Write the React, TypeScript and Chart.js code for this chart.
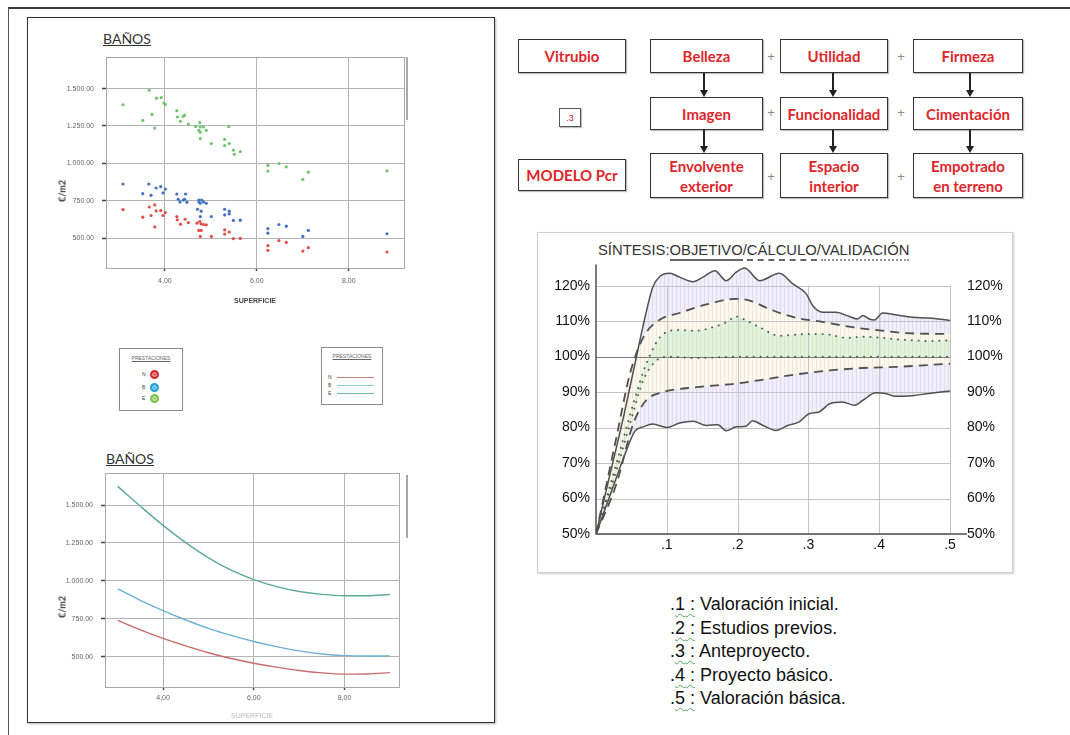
import React, { useEffect, useRef } from 'react';
import { Chart, registerables } from 'chart.js';
Chart.register(...registerables);

const SANS = '"Liberation Sans", Arial, sans-serif';
const CAL = 'Lato, "Open Sans", sans-serif';

// ---------------- data: scatter "BAÑOS" ----------------
const greenX = [3.09, 3.66, 3.72, 3.52, 3.78, 3.82, 3.92, 3.98, 4.01, 4.26, 4.27, 4.34, 4.40, 4.43, 4.51, 4.67, 4.76, 4.77, 4.74, 4.77, 4.84, 4.90, 4.77, 5.01, 5.30, 5.30, 5.40, 5.39, 5.49, 5.51, 5.64, 6.24, 6.24, 6.48, 6.64, 7.00, 7.12, 8.83];
const greenY = [1392, 1489, 1327, 1287, 1236, 1436, 1440, 1403, 1394, 1352, 1310, 1281, 1314, 1323, 1263, 1247, 1272, 1243, 1221, 1208, 1243, 1221, 1165, 1132, 1161, 1119, 1132, 1247, 1088, 1061, 1079, 986, 948, 999, 977, 893, 941, 950];
const blueX = [3.09, 3.65, 3.52, 3.70, 3.81, 3.91, 3.96, 4.01, 4.26, 4.45, 4.29, 4.40, 4.43, 4.33, 4.48, 4.74, 4.74, 4.77, 4.80, 4.84, 4.90, 4.71, 4.79, 4.77, 5.01, 5.30, 5.40, 5.30, 5.40, 5.49, 5.64, 6.24, 6.24, 6.48, 6.64, 7.00, 7.12, 8.83];
const blueY = [862, 862, 797, 786, 835, 844, 802, 828, 795, 795, 760, 755, 760, 742, 740, 755, 742, 733, 755, 742, 733, 693, 680, 644, 644, 693, 680, 655, 662, 618, 620, 564, 533, 591, 580, 511, 551, 529];
const redX = [3.09, 3.52, 3.66, 3.70, 3.78, 3.81, 3.91, 3.96, 4.01, 3.78, 4.26, 4.27, 4.34, 4.44, 4.51, 4.70, 4.76, 4.79, 4.84, 4.90, 4.74, 4.79, 4.77, 5.01, 5.30, 5.30, 5.40, 5.49, 5.64, 6.24, 6.24, 6.48, 6.64, 7.00, 7.12, 8.83];
const redY = [691, 640, 708, 651, 722, 682, 684, 651, 671, 575, 644, 622, 593, 626, 604, 600, 611, 595, 591, 589, 551, 551, 511, 511, 555, 527, 540, 496, 498, 449, 418, 484, 471, 413, 436, 407];

// ---------------- data: curves "BAÑOS" ----------------
const curveX = [3.0, 3.5, 4.0, 4.5, 5.0, 5.5, 6.0, 6.5, 7.0, 7.5, 8.0, 8.5, 9.0];
const curveE = [1623, 1492, 1366, 1252, 1152, 1070, 1008, 962, 930, 911, 902, 902, 910];
const curveB = [947, 872, 804, 742, 687, 640, 600, 566, 538, 518, 507, 504, 505];
const curveN = [739, 677, 621, 571, 526, 488, 457, 431, 409, 393, 385, 386, 395];

// shared axes of the two left charts
const docXTicks = [4, 6, 8];
const docXLabels = ['4,00', '6,00', '8,00'];
const docYTicks = [500, 750, 1000, 1250, 1500];
const docYLabels = ['500.00', '750.00', '1.000.00', '1.250.00', '1.500.00'];
const legendLetters = ['N', 'B', 'E'];

// ---------------- data: SÍNTESIS ----------------
const objUpX = [0, 0.02, 0.04, 0.055, 0.068, 0.08, 0.09, 0.104, 0.118, 0.137, 0.151, 0.168, 0.184, 0.198, 0.21, 0.231, 0.259, 0.278, 0.297, 0.306, 0.32, 0.339, 0.358, 0.369, 0.377, 0.386, 0.393, 0.405, 0.423, 0.447, 0.47, 0.5];
const objUpY = [50, 67, 84, 98, 110, 119.5, 122.6, 123.5, 122.4, 121.1, 122.4, 124.2, 121.4, 123.8, 125.0, 121.4, 123.5, 120.5, 117.7, 114.4, 112.5, 112.5, 111.3, 110.6, 111.6, 110.6, 110.3, 112.3, 111.8, 111.1, 110.9, 110.2];
const objLoX = [0, 0.02, 0.04, 0.055, 0.067, 0.08, 0.1, 0.118, 0.137, 0.156, 0.172, 0.184, 0.198, 0.212, 0.221, 0.236, 0.254, 0.271, 0.287, 0.301, 0.315, 0.33, 0.348, 0.365, 0.377, 0.395, 0.409, 0.423, 0.447, 0.47, 0.5];
const objLoY = [50, 61, 72, 79, 80.2, 81, 80, 81.3, 81.8, 80.6, 80.8, 79.1, 80.2, 80.4, 81.9, 80.6, 79.2, 80.6, 81.6, 83.9, 84.4, 86.7, 87.2, 86.3, 87.7, 89.8, 89.6, 88.8, 89.0, 89.6, 90.3];
const calcUpX = [0, 0.029, 0.048, 0.067, 0.09, 0.118, 0.156, 0.198, 0.217, 0.245, 0.283, 0.32, 0.362, 0.4, 0.44, 0.5];
const calcUpY = [50, 77.4, 95.2, 105.5, 110.4, 112.3, 114.7, 116.3, 115.8, 113.4, 110.9, 109.8, 108.3, 107.4, 106.6, 106.4];
const calcLoX = [0, 0.029, 0.0526, 0.071, 0.095, 0.142, 0.198, 0.245, 0.283, 0.33, 0.377, 0.423, 0.5];
const calcLoY = [50, 64.2, 81.1, 87.7, 90.0, 91.4, 92.4, 93.8, 95.0, 96.1, 96.8, 97.1, 98.0];
const valUpX = [0, 0.029, 0.0526, 0.071, 0.095, 0.118, 0.142, 0.165, 0.184, 0.198, 0.212, 0.231, 0.259, 0.283, 0.306, 0.33, 0.353, 0.377, 0.4, 0.423, 0.447, 0.47, 0.5];
const valUpY = [50, 70, 86.7, 98, 106.4, 107.5, 107.3, 108.3, 109.7, 111.3, 110.2, 108.3, 105.9, 106.2, 106.4, 106.2, 105.3, 105.6, 105.4, 104.9, 104.6, 104.4, 104.6];
const valLoX = [0, 0.029, 0.048, 0.0667, 0.0855, 0.104, 0.14, 0.16, 0.2, 0.3, 0.4, 0.5];
const valLoY = [50, 68, 81, 93.3, 98.9, 100, 99.6, 99.7, 100, 100, 100, 100];
const synthXTicks = [0.1, 0.2, 0.3, 0.4, 0.5];
const synthXLabels = ['.1', '.2', '.3', '.4', '.5'];
const synthYTicks = [50, 60, 70, 80, 90, 100, 110, 120];
const synthYLabels = ['50%', '60%', '70%', '80%', '90%', '100%', '110%', '120%'];

// ---------------- text content ----------------
const flowRows = [
  ['Belleza', 'Utilidad', 'Firmeza'],
  ['Imagen', 'Funcionalidad', 'Cimentación'],
  ['Envolvente\nexterior', 'Espacio\ninterior', 'Empotrado\nen terreno'],
];
const flowLeft = ['Vitrubio', '.3', 'MODELO Pcr'];
const phaseNums = ['1', '2', '3', '4', '5'];
const phaseNames = ['Valoración inicial.', 'Estudios previos.', 'Anteproyecto.', 'Proyecto básico.', 'Valoración básica.'];

// ---------------- helpers ----------------
const pts = (xs: number[], ys: number[]) => xs.map((x, i) => ({ x, y: ys[i] }));
const fixedTicks = (vals: number[]) => (scale: any) => {
  scale.ticks = vals.map((v) => ({ value: v }));
};

const plotFrame = {
  id: 'plotFrame',
  beforeDatasetsDraw(chart: any) {
    const { ctx, chartArea: a } = chart;
    ctx.save();
    ctx.strokeStyle = '#a8a8a8';
    ctx.lineWidth = 1;
    ctx.strokeRect(Math.round(a.left) + 0.5, Math.round(a.top) + 0.5, Math.round(a.right - a.left), Math.round(a.bottom - a.top));
    ctx.restore();
  },
};

function docOptions(p: { padTop: number; padRight: number; xHeight: number; yWidth: number; xTickPad: number; xTitleColor: string; xTitlePad: number }) {
  const tickFont = { family: SANS, size: 7 };
  return {
    animation: false,
    responsive: false,
    maintainAspectRatio: false,
    layout: { padding: { top: p.padTop, right: p.padRight, left: 0, bottom: 0 } },
    plugins: { legend: { display: false }, tooltip: { enabled: false } },
    scales: {
      x: {
        type: 'linear',
        min: 2.72,
        max: 9.2,
        afterBuildTicks: fixedTicks(docXTicks),
        afterFit: (s: any) => { s.height = p.xHeight; },
        ticks: { autoSkip: false, maxRotation: 0, padding: p.xTickPad, color: '#666', font: tickFont, callback: (_v: any, i: number) => docXLabels[i] },
        grid: { color: '#b4b4b4', lineWidth: 1, tickColor: '#444', tickLength: 3, tickWidth: 1.5 },
        border: { display: true, color: '#a8a8a8' },
        title: { display: true, text: 'SUPERFICIE', color: p.xTitleColor, font: { family: SANS, size: 7, weight: 'bold' }, padding: { top: 0, bottom: p.xTitlePad } },
      },
      y: {
        type: 'linear',
        min: 300,
        max: 1710,
        afterBuildTicks: fixedTicks(docYTicks),
        afterFit: (s: any) => { s.width = p.yWidth; },
        ticks: { padding: 8, color: '#666', font: tickFont, callback: (_v: any, i: number) => docYLabels[i] },
        grid: { color: '#b4b4b4', lineWidth: 1, tickColor: '#444', tickLength: 4, tickWidth: 1.5 },
        border: { display: true, color: '#a8a8a8' },
      },
    },
  };
}

function hatch(base: string, line: string) {
  const c = document.createElement('canvas');
  c.width = 4;
  c.height = 4;
  const g = c.getContext('2d') as CanvasRenderingContext2D;
  g.fillStyle = base;
  g.fillRect(0, 0, 4, 4);
  g.fillStyle = line;
  g.fillRect(0, 0, 1, 4);
  return g.createPattern(c, 'repeat');
}

const synthGrid = {
  id: 'synthGrid',
  beforeDatasetsDraw(chart: any) {
    const { ctx, chartArea: a } = chart;
    const x = chart.scales.x;
    const y = chart.scales.y;
    ctx.save();
    ctx.lineWidth = 1;
    for (const v of synthYTicks) {
      const py = Math.round(y.getPixelForValue(v)) + 0.5;
      ctx.strokeStyle = v === 100 ? '#7c7c7c' : '#c4c4c4';
      ctx.beginPath();
      ctx.moveTo(a.left, py);
      ctx.lineTo(a.right, py);
      ctx.stroke();
    }
    const top = y.getPixelForValue(synthYTicks[synthYTicks.length - 1]);
    ctx.strokeStyle = '#c4c4c4';
    for (const v of synthXTicks) {
      const px = Math.round(x.getPixelForValue(v)) + 0.5;
      ctx.beginPath();
      ctx.moveTo(px, top);
      ctx.lineTo(px, a.bottom);
      ctx.stroke();
    }
    ctx.strokeStyle = '#505050';
    ctx.lineWidth = 1.5;
    ctx.beginPath();
    ctx.moveTo(a.left, a.top);
    ctx.lineTo(a.left, a.bottom);
    ctx.lineTo(a.right + 17, a.bottom);
    ctx.stroke();
    ctx.restore();
  },
};

// ---------------- chart components ----------------
function ScatterChart() {
  const ref = useRef<HTMLCanvasElement>(null);
  useEffect(() => {
    const dot = (color: string) => ({ backgroundColor: color, borderColor: color, pointRadius: 1.6, pointBorderWidth: 0 });
    const chart = new Chart(ref.current as HTMLCanvasElement, {
      type: 'scatter',
      data: {
        datasets: [
          { label: 'N', data: pts(redX, redY), ...dot('#e0504a') },
          { label: 'B', data: pts(blueX, blueY), ...dot('#4472c2') },
          { label: 'E', data: pts(greenX, greenY), ...dot('#72c272') },
        ],
      },
      options: docOptions({ padTop: 12, padRight: 16, xHeight: 57, yWidth: 66, xTickPad: 6, xTitleColor: '#444', xTitlePad: 20 }) as any,
      plugins: [plotFrame],
    });
    return () => chart.destroy();
  }, []);
  return <canvas ref={ref} width={380} height={280} style={{ position: 'absolute', left: 40, top: 45, width: 380, height: 280 }} />;
}

function CurveChart() {
  const ref = useRef<HTMLCanvasElement>(null);
  useEffect(() => {
    const line = (color: string) => ({ borderColor: color, borderWidth: 1.4, pointRadius: 0, fill: false, cubicInterpolationMode: 'monotone' as const });
    const chart = new Chart(ref.current as HTMLCanvasElement, {
      type: 'line',
      data: {
        datasets: [
          { label: 'N', data: pts(curveX, curveN), ...line('#c76b6b') },
          { label: 'B', data: pts(curveX, curveB), ...line('#6eb0d2') },
          { label: 'E', data: pts(curveX, curveE), ...line('#5caa99') },
        ],
      },
      options: docOptions({ padTop: 0, padRight: 21, xHeight: 38, yWidth: 65, xTickPad: 4, xTitleColor: '#d0d0d0', xTitlePad: 5 }) as any,
      plugins: [plotFrame],
    });
    return () => chart.destroy();
  }, []);
  return <canvas ref={ref} width={380} height={264} style={{ position: 'absolute', left: 40, top: 461, width: 380, height: 264 }} />;
}

function SynthChart() {
  const ref = useRef<HTMLCanvasElement>(null);
  useEffect(() => {
    const lavender = hatch('#f0eef9', '#e1dcf1');
    const cream = hatch('#fcf8ee', '#f1eadb');
    const green = hatch('#e3f2dd', '#d2e8c9');
    const base = { pointRadius: 0, cubicInterpolationMode: 'monotone' as const, borderColor: '#505050' };
    const solid = { ...base, borderWidth: 1.5, order: 3 };
    const dashed = { ...base, borderWidth: 1.8, borderDash: [9, 6], order: 2 };
    const dotted = { ...base, borderColor: '#4a5a4a', borderWidth: 1.9, borderDash: [0.1, 6.8], borderCapStyle: 'round' as const, order: 1 };
    const yTicks = () => ({ padding: 0, color: '#111', font: { family: SANS, size: 14 }, callback: (_v: any, i: number) => synthYLabels[i] });
    const chart = new Chart(ref.current as HTMLCanvasElement, {
      type: 'line',
      data: {
        datasets: [
          { label: 'Objetivo +', data: pts(objUpX, objUpY), ...solid, fill: '+1', backgroundColor: lavender as any },
          { label: 'Objetivo -', data: pts(objLoX, objLoY), ...solid, fill: false },
          { label: 'Cálculo +', data: pts(calcUpX, calcUpY), ...dashed, fill: '+1', backgroundColor: cream as any },
          { label: 'Cálculo -', data: pts(calcLoX, calcLoY), ...dashed, fill: false },
          { label: 'Validación +', data: pts(valUpX, valUpY), ...dotted, fill: '+1', backgroundColor: green as any },
          { label: 'Validación -', data: pts(valLoX, valLoY), ...dotted, fill: false },
        ] as any,
      },
      options: {
        animation: false,
        responsive: false,
        maintainAspectRatio: false,
        layout: { padding: 0 },
        plugins: { legend: { display: false }, tooltip: { enabled: false }, filler: { drawTime: 'beforeDatasetsDraw' } },
        scales: {
          x: {
            type: 'linear',
            min: 0,
            max: 0.5,
            afterBuildTicks: fixedTicks(synthXTicks),
            afterFit: (s: any) => { s.height = 28; },
            grid: { display: false, drawTicks: false },
            border: { display: false },
            ticks: { autoSkip: false, maxRotation: 0, padding: 3, color: '#111', font: { family: SANS, size: 14 }, callback: (_v: any, i: number) => synthXLabels[i] },
          },
          y: {
            type: 'linear',
            position: 'left',
            min: 50,
            max: 126,
            afterBuildTicks: fixedTicks(synthYTicks),
            afterFit: (s: any) => { s.width = 56; },
            grid: { display: false, drawTicks: true, tickLength: 6 },
            border: { display: false },
            ticks: yTicks(),
          },
          y2: {
            type: 'linear',
            position: 'right',
            min: 50,
            max: 126,
            afterBuildTicks: fixedTicks(synthYTicks),
            afterFit: (s: any) => { s.width = 60; },
            grid: { display: false, drawTicks: true, tickLength: 17 },
            border: { display: false },
            ticks: yTicks(),
          },
        },
      } as any,
      plugins: [synthGrid],
    });
    return () => chart.destroy();
  }, []);
  return <canvas ref={ref} width={470} height={306} style={{ position: 'absolute', left: 540, top: 256, width: 470, height: 306 }} />;
}

// ---------------- layout helpers ----------------
const abs = (left: number, top: number, width?: number, height?: number): React.CSSProperties => ({ position: 'absolute', left, top, width, height });

const RED = '#e0262a';
const boxStyle: React.CSSProperties = {
  border: '1.5px solid #333',
  boxSizing: 'border-box',
  boxShadow: '1px 1px 1px rgba(0,0,0,0.25)',
  display: 'flex',
  alignItems: 'center',
  justifyContent: 'center',
  textAlign: 'center',
  color: RED,
  fontFamily: CAL,
  fontWeight: 700,
  fontSize: 15,
  lineHeight: '20px',
  whiteSpace: 'pre-line',
  background: '#fff',
};

const colLeft = [650, 780, 913];
const colWidth = [113, 108, 110];
const rowTop = [39, 97, 153];
const rowHeight = [34, 33, 45];
const arrowX = [704, 833, 970];
const plusX = [771, 901];
const plusY = [57, 113, 177];

function Arrow({ x, y1, y2 }: { x: number; y1: number; y2: number }) {
  return (
    <>
      <div style={{ ...abs(x - 0.75, y1, 1.5, y2 - y1 - 6), background: '#222' }} />
      <div style={{ ...abs(x - 4, y2 - 7, 0, 0), borderLeft: '4px solid transparent', borderRight: '4px solid transparent', borderTop: '7px solid #222' }} />
    </>
  );
}

const legendDotColors = ['#d42a2a', '#1fa0d8', '#7cc24a'];
const legendLineColors = ['#c98080', '#86cadb', '#6cb9b0'];

export default function App() {
  return (
    <div style={{ position: 'absolute', left: 0, top: 0, width: 1070, height: 735, background: '#fff', overflow: 'hidden', fontFamily: SANS }}>
      {/* outer frame */}
      <div style={{ ...abs(8, 7, 1080, 740), borderTop: '2px solid #3a3a3a', borderLeft: '1.5px solid #555' }} />
      {/* document page */}
      <div style={{ ...abs(27, 17, 468, 706), border: '1.5px solid #333', boxSizing: 'border-box', boxShadow: '1px 1px 2px rgba(0,0,0,0.3)' }} />

      {/* top scatter chart */}
      <div style={{ ...abs(103, 30), fontFamily: CAL, fontSize: 14, color: '#333', textDecoration: 'underline', lineHeight: '18px' }}>BAÑOS</div>
      <ScatterChart />
      <div style={{ ...abs(62, 191), transform: 'translate(-50%, -50%) rotate(-90deg)', fontFamily: CAL, fontWeight: 700, fontSize: 9, color: '#333', whiteSpace: 'nowrap' }}>€/m2</div>
      <div style={{ ...abs(406, 57, 2, 63), background: '#a9a9a9' }} />

      {/* legend boxes */}
      <div style={{ ...abs(119, 348, 64, 63), border: '1.5px solid #8a8a8a', boxSizing: 'border-box' }}>
        <div style={{ position: 'absolute', left: 0, right: 0, top: 6, textAlign: 'center', fontSize: 5, color: '#666', textDecoration: 'underline' }}>PRESTACIONES</div>
        {legendLetters.map((l, i) => (
          <React.Fragment key={l}>
            <div style={{ ...abs(22, [22, 35, 46][i]), fontSize: 5, color: '#444' }}>{l}</div>
            <div style={{ ...abs(30, [21, 34, 45][i], 9, 9), borderRadius: '50%', background: legendDotColors[i], boxSizing: 'border-box', border: '2.5px solid ' + legendDotColors[i], boxShadow: 'inset 0 0 0 1.5px rgba(255,255,255,0.55)' }} />
          </React.Fragment>
        ))}
      </div>
      <div style={{ ...abs(321, 347, 62, 58), border: '1.5px solid #8a8a8a', boxSizing: 'border-box' }}>
        <div style={{ position: 'absolute', left: 0, right: 0, top: 5, textAlign: 'center', fontSize: 5, color: '#666', textDecoration: 'underline' }}>PRESTACIONES</div>
        {legendLetters.map((l, i) => (
          <React.Fragment key={l}>
            <div style={{ ...abs(6, [26, 34, 42][i]), fontSize: 5, color: '#444' }}>{l}</div>
            <div style={{ ...abs(15, [29, 37, 45][i], 37, 1), background: legendLineColors[i] }} />
          </React.Fragment>
        ))}
      </div>

      {/* bottom curve chart */}
      <div style={{ ...abs(106, 450), fontFamily: CAL, fontSize: 14, color: '#333', textDecoration: 'underline', lineHeight: '18px' }}>BAÑOS</div>
      <CurveChart />
      <div style={{ ...abs(62, 607), transform: 'translate(-50%, -50%) rotate(-90deg)', fontFamily: CAL, fontWeight: 700, fontSize: 9, color: '#333', whiteSpace: 'nowrap' }}>€/m2</div>
      <div style={{ ...abs(406, 475, 2, 63), background: '#a9a9a9' }} />

      {/* flow chart */}
      <div style={{ ...abs(518, 39, 108, 34), ...boxStyle }}>{flowLeft[0]}</div>
      <div style={{ ...abs(559, 108, 22, 19), ...boxStyle, border: '1px solid #555', fontSize: 9, fontWeight: 400, fontFamily: SANS, color: '#c02020' }}>{flowLeft[1]}</div>
      <div style={{ ...abs(518, 159, 108, 32), ...boxStyle }}>{flowLeft[2]}</div>
      {flowRows.map((row, r) =>
        row.map((txt, c) => (
          <div key={r + '-' + c} style={{ ...abs(colLeft[c], rowTop[r], colWidth[c], rowHeight[r]), ...boxStyle }}>{txt}</div>
        ))
      )}
      {plusY.map((py, r) =>
        plusX.map((px, c) => (
          <div key={'p' + r + c} style={{ ...abs(px - 5, py - 8, 10, 16), textAlign: 'center', fontSize: 13, lineHeight: '16px', color: '#8a8a8a' }}>+</div>
        ))
      )}
      {arrowX.map((ax) => (
        <React.Fragment key={'a' + ax}>
          <Arrow x={ax} y1={73} y2={97} />
          <Arrow x={ax} y1={130} y2={153} />
        </React.Fragment>
      ))}

      {/* synthesis frame + title */}
      <div style={{ ...abs(537, 232, 476, 341), border: '1px solid #cfcfcf', boxSizing: 'border-box', boxShadow: '1px 1px 2px rgba(0,0,0,0.2)' }} />
      <div style={{ ...abs(598, 242), fontSize: 14.8, color: '#333', whiteSpace: 'nowrap', lineHeight: '17px' }}>
        SÍNTESIS:
        <span style={{ borderBottom: '2px solid #666', paddingBottom: 1 }}>OBJETIVO</span>/
        <span style={{ borderBottom: '2px dashed #666', paddingBottom: 1 }}>CÁLCULO</span>/
        <span style={{ borderBottom: '2px dotted #999', paddingBottom: 1 }}>VALIDACIÓN</span>
      </div>
      <SynthChart />

      {/* phase list */}
      <div style={{ ...abs(670, 593), fontSize: 18, lineHeight: '23.5px', color: '#111', whiteSpace: 'nowrap' }}>
        {phaseNums.map((n, i) => (
          <div key={n}>
            .<span style={{ textDecoration: 'underline wavy #5aa55a', textDecorationThickness: 1, textUnderlineOffset: 3 }}>{n} :</span> {phaseNames[i]}
          </div>
        ))}
      </div>
    </div>
  );
}
